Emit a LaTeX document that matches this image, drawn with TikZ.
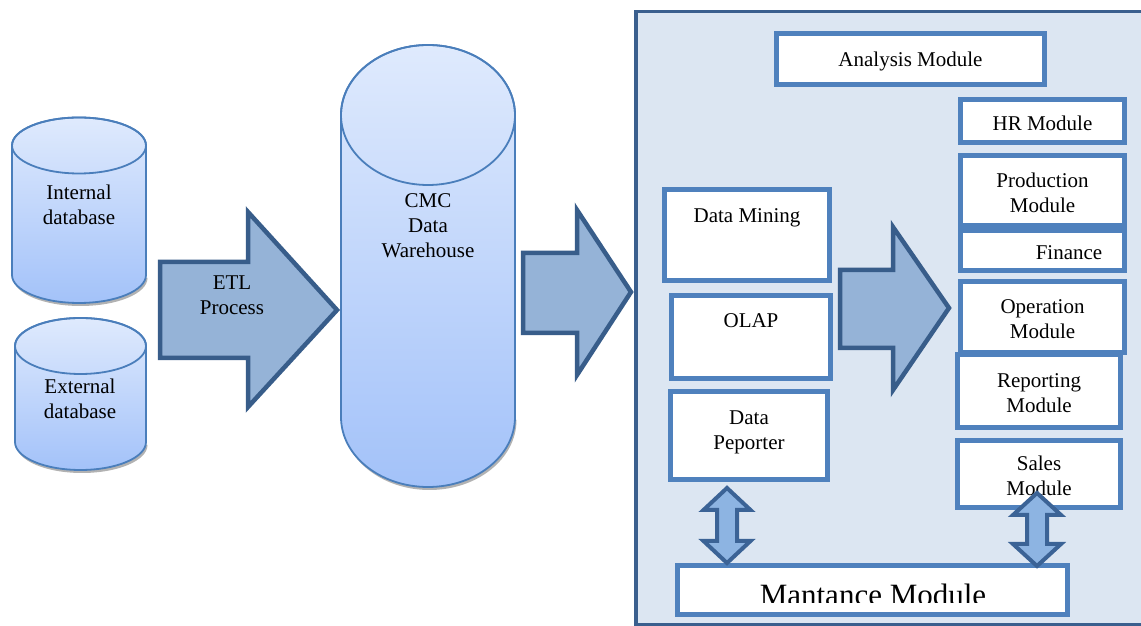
\documentclass[tikz,border=0pt]{standalone}
\usepackage{fontspec}
\setmainfont{Liberation Serif}
\definecolor{panelfill}{HTML}{DCE6F2}
\definecolor{panelline}{HTML}{3A5F8E}
\definecolor{boxline}{HTML}{4F81BD}
\definecolor{arrowfill}{HTML}{95B3D7}
\definecolor{arrowline}{HTML}{385D8A}
\definecolor{dblfill}{HTML}{8DB4E2}
\definecolor{dblline}{HTML}{3B6396}
\definecolor{cyltop}{HTML}{DFEAFD}
\definecolor{cylbot}{HTML}{A3C2F9}
\definecolor{cylline}{HTML}{4A7EBB}
\newcommand\dbcylinder[5]{%
  % #1 cx, #2 rx, #3 top centre y, #4 bottom centre y, #5 ry
  \fill[gray!60, shift={(1.5pt,-3pt)}] ({#1-#2},#4) arc[start angle=180,end angle=360,x radius=#2pt,y radius=#5pt] -- cycle;
  \shadedraw[cylbody] ({#1-#2},#3) -- ({#1-#2},#4) arc[start angle=180,end angle=360,x radius=#2pt,y radius=#5pt] -- ({#1+#2},#3) arc[start angle=0,end angle=180,x radius=#2pt,y radius=#5pt] -- cycle;
  \draw[draw=cylline, line width=1.8pt] (#1,#3) ellipse[x radius=#2pt, y radius=#5pt];
}
\begin{document}
\begin{tikzpicture}[x=1pt,y=1pt,
  mbox/.style={draw=boxline, line width=5pt, fill=white, inner sep=0pt},
  blockarrow/.style={draw=arrowline, fill=arrowfill, line width=4.5pt, line join=miter},
  dblarrow/.style={draw=dblline, fill=dblfill, line width=4pt, line join=miter},
  txt/.style={font=\fontsize{21}{25}\selectfont, align=center, inner sep=0pt},
  boxtext/.style={label={[txt, yshift=-2pt]center:{#1}}},
  toplabel/.style={font=\fontsize{21}{25}\selectfont, align=center, inner sep=0pt, anchor=center},
  cylbody/.style={top color=cyltop, bottom color=cylbot, draw=cylline, line width=1.8pt}]
\useasboundingbox (0,0) rectangle (1141,626);
\clip (0,0) rectangle (1141,626);
\fill[white] (0,0) rectangle (1141,626);

% ---------- databases ----------
\dbcylinder{79}{67}{480.5}{351}{28}
\node[txt] (internal) at (79,421.5) {Internal\\database};
\dbcylinder{80.5}{65.5}{280}{184}{28}
\node[txt] (external) at (80,227) {External\\database};

% ---------- ETL arrow ----------
\draw[blockarrow] (160,364) -- (248,364) -- (248,414) -- (337,316) -- (248,219) -- (248,268) -- (160,268) -- cycle;
\node[txt] (etl) at (232,330.5) {ETL\\Process};

% ---------- warehouse ----------
\dbcylinder{428}{87}{511}{209}{70}
\node[txt] (cmc) at (428,400) {CMC\\Data\\Warehouse};

% ---------- arrow to panel ----------
\draw[blockarrow] (523,373) -- (577,373) -- (577,416) -- (631,334) -- (577,251) -- (577,293) -- (523,293) -- cycle;

% ---------- panel ----------
\draw[draw=panelline, fill=panelfill, line width=3.5pt] (636,1) rectangle (1175,614.5);

% ---------- analysis tools ----------
\node[mbox, minimum width=268, minimum height=51, boxtext={Analysis Module}] (analysis) at (910.5,567) {};
\node[mbox, minimum width=165, minimum height=91,
  label={[toplabel, yshift=-30.5pt]north:Data Mining}] (mining) at (747,391) {};
\node[mbox, minimum width=159, minimum height=83,
  label={[toplabel, yshift=-28pt]north:OLAP}] (olap) at (751,289) {};
\node[mbox, minimum width=157, minimum height=88,
  label={[toplabel, yshift=-43pt]north:Data\\Peporter}] (reporter) at (749,190.5) {};

% ---------- inner arrow ----------
\draw[blockarrow] (840,356) -- (893,356) -- (893,399) -- (949,318) -- (893,236) -- (893,278) -- (840,278) -- cycle;

% ---------- modules ----------
\node[mbox, minimum width=164, minimum height=43, boxtext={HR Module}] (hr) at (1042.5,505) {};
\node[mbox, minimum width=164, minimum height=70, boxtext={Production\\Module}] (production) at (1042.5,435.5) {};
\node[mbox, minimum width=164, minimum height=40,
  label={[txt, yshift=-2pt, xshift=26.5pt]center:Finance}] (finance) at (1042.5,375.5) {};
\node[mbox, minimum width=164, minimum height=71, boxtext={Operation\\Module}] (operation) at (1042.5,309) {};
\node[mbox, minimum width=163, minimum height=73, boxtext={Reporting\\Module}] (reporting) at (1039,235) {};
\node[mbox, minimum width=163, minimum height=67, boxtext={Sales\\Module}] (sales) at (1039,152) {};

% ---------- maintenance ----------
\node[mbox, minimum width=390, minimum height=49] (mantance) at (872.5,36) {};
\begin{scope}
  \clip (680,23) rectangle (1065,60);
  \node[font=\fontsize{31}{36}\selectfont, anchor=base, inner sep=0pt] (mantext) at (873,20.5) {Mantance Module};
\end{scope}

% ---------- double arrows ----------
\draw[dblarrow] (727,138) -- (750.5,116) -- (737,116) -- (737,85) -- (750.5,85) -- (727,63) -- (703.5,85) -- (717,85) -- (717,116) -- (703.5,116) -- cycle;
\draw[dblarrow] (1037,133) -- (1061,111) -- (1047,111) -- (1047,82) -- (1061,82) -- (1037,60) -- (1013,82) -- (1027,82) -- (1027,111) -- (1013,111) -- cycle;
\end{tikzpicture}
\end{document}
